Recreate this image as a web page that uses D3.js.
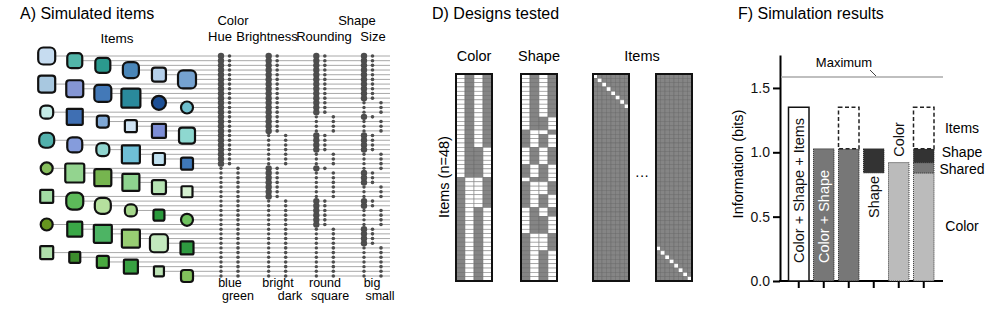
<!DOCTYPE html>
<html>
<head>
<meta charset="utf-8">
<script src="https://cdn.jsdelivr.net/npm/d3@7"></script>
<style>
  body { margin: 0; background: #fff; }
  svg { font-family: "Liberation Sans", Arial, sans-serif; }
</style>
</head>
<body>
<svg id="fig" width="1000" height="312"></svg>
<script>
// ---------- data ----------
// item features, 0 = first category, 1 = second (blue/green, bright/dark, round/square, big/small)
const hue        = [0,0,0,0,0,0,0,0,0,0,0,0,0,0,0,0,0,0,0,0,0,0,0,0, 1,1,1,1,1,1,1,1,1,1,1,1,1,1,1,1,1,1,1,1,1,1,1,1];
const brightness = [0,0,0,0,0,0,0,0,0,0,0,0,0,0,0,0,0,1,1,1,1,1,1,1, 0,0,0,0,0,0,0,1,1,1,1,1,1,1,1,1,1,1,1,1,1,1,1,1];
const rounding   = [0,0,0,0,0,0,0,0,0,0,0,0,0,1,1,1,1,0,0,0,0,1,1,1, 0,1,1,1,1,1,1,0,0,0,0,0,0,1,1,1,1,1,1,1,1,1,1,1];
const sizeCat    = [0,0,0,0,0,0,0,0,0,0,1,1,1,0,1,1,1,0,0,0,0,1,1,1, 1,0,0,0,1,1,1,0,0,1,1,1,1,0,0,0,0,1,1,1,1,1,1,1];

// how each item looks in panel A
const itemColors = [
  "#c6dcf0","#52b5a8","#2b9a8e","#4a86b8","#b5d0ea","#75a2d0",
  "#a8c8e0","#8596d4","#4379b8","#2a8a9c","#1e5096","#6fc0cf",
  "#c5ebe6","#3f6fb3","#7fa8d6","#d0e4f4","#7d8ed6","#8ed8d0",
  "#52b1ac","#859cdc","#90d5cf","#6fbfd6","#bfe0ef","#3f78b8",
  "#86be5c","#93d48f","#76b54f","#8ed38f","#b7e4b4","#d5f0d0",
  "#a2dba4","#5dba5a","#b5e09e","#a5d78b","#2a9a3c","#6ec15e",
  "#66951f","#3aa847","#4db464","#98ce73","#c2e8bd","#2e9a40",
  "#afdfab","#3c8c2c","#49a83f","#38a142","#bde4b6","#82c05c"
];
const itemSizes = [
  17,15,15,16,14,18,
  17,17,17,19,14,12,
  13,16,12,12,14,16,
  15,15,13,18,12,12,
  12,19,17,17,14,11,
  13,17,16,12,11,12,
  12,15,18,18,18,13,
  13,11,12,14,10,12
];
const itemCorners = [
  5,4,4,5,3,5,
  3,3,4,2,7,6,
  5,1,3,2,1,3,
  6,5,5,1,2,2,
  6,2,2,1,2,1,
  1,6,6,5,2,6,
  6,1,1,1,4,1,
  1,1,2,1,1,3
];

const featureNames = ["Hue", "Brightness", "Rounding", "Size"];
const featureLow   = ["blue", "bright", "round", "big"];
const featureHigh  = ["green", "dark", "square", "small"];
const featureData  = [hue, brightness, rounding, sizeCat];

// panel F
const barLabels = ["Color + Shape + Items", "Color + Shape", "", "Shape", "Color", ""];
const segBar  = [0, 1, 2, 2, 3, 4, 5, 5, 5, 5];
const segLo   = [0, 0, 0, 1.027, 0.84, 0, 0, 0.84, 0.92, 1.027];
const segHi   = [1.35, 1.027, 1.027, 1.35, 1.027, 0.92, 0.84, 0.92, 1.027, 1.35];
const segKind = ["all", "both", "both", "items", "shape", "color", "color", "shared", "shape", "items"];
const maxInfo = 1.585;
const yTicks  = [0, 0.5, 1.0, 1.5];
const sideLabels = ["Items", "Shape", "Shared", "Color"];
const sideValues = [1.19, 1.0, 0.87, 0.43];

const svg = d3.select("#fig");

// ---------- panel A ----------
const A = svg.append("g");
A.append("text").attr("x", 20).attr("y", 19).attr("font-size", 16).text("A) Simulated items");
A.append("text").attr("x", 117).attr("y", 43).attr("font-size", 13.5).attr("text-anchor", "middle").text("Items");

const n = hue.length;
const rowY = d3.scaleLinear().domain([0, n - 1]).range([56, 276]);
const colX = d3.scaleLinear().domain([0, 5]).range([46.7, 187]);

// one grey line per item running out to the feature columns
A.append("g").selectAll("line").data(d3.range(n)).enter().append("line")
  .attr("x1", i => colX(i % 6)).attr("x2", 390)
  .attr("y1", i => rowY(i)).attr("y2", i => rowY(i))
  .attr("stroke", "#a8a8a8").attr("stroke-width", 1);

A.append("g").selectAll("rect").data(d3.range(n)).enter().append("rect")
  .attr("x", i => colX(i % 6) - itemSizes[i] / 2)
  .attr("y", i => rowY(i) - itemSizes[i] / 2)
  .attr("width", i => itemSizes[i]).attr("height", i => itemSizes[i])
  .attr("rx", i => itemCorners[i]).attr("ry", i => itemCorners[i])
  .attr("fill", i => itemColors[i])
  .attr("stroke", "#111").attr("stroke-width", 2.2);

// feature dots: spine column (big = first category), then one small dot per category column
const featX = d3.scalePoint().domain(featureNames).range([221, 364]);
const dotCol = "#4d4d4d";
featureNames.forEach((f, k) => {
  const vals = featureData[k];
  const x0 = featX(f);
  const g = A.append("g");
  g.selectAll("circle.spine").data(vals).enter().append("circle").attr("class", "spine")
    .attr("cx", x0).attr("cy", (d, i) => rowY(i))
    .attr("r", d => d === 0 ? 3.2 : 1.7).attr("fill", dotCol);
  g.selectAll("circle.cat").data(vals).enter().append("circle").attr("class", "cat")
    .attr("cx", d => d === 0 ? x0 + 8.5 : x0 + 17).attr("cy", (d, i) => rowY(i))
    .attr("r", 1.8).attr("fill", dotCol);
});

const headX = [220, 267, 324, 373];
featureNames.forEach((f, k) => {
  A.append("text").attr("x", headX[k]).attr("y", 41).attr("font-size", 13)
    .attr("text-anchor", "middle").text(f);
});
A.append("text").attr("x", 233).attr("y", 25).attr("font-size", 13).attr("text-anchor", "middle").text("Color");
A.append("text").attr("x", 357).attr("y", 25).attr("font-size", 13).attr("text-anchor", "middle").text("Shape");
const lowX = [230, 278, 325, 372], highX = [238, 290, 330, 380];
featureNames.forEach((f, k) => {
  A.append("text").attr("x", lowX[k]).attr("y", 286.5).attr("font-size", 12.5)
    .attr("text-anchor", "middle").text(featureLow[k]);
  A.append("text").attr("x", highX[k]).attr("y", 300).attr("font-size", 12.5)
    .attr("text-anchor", "middle").text(featureHigh[k]);
});

// ---------- panel D ----------
const D = svg.append("g");
D.append("text").attr("x", 432).attr("y", 19).attr("font-size", 16).text("D) Designs tested");
const mRow = d3.scaleBand().domain(d3.range(n)).range([74, 281]);

function drawMatrix(left, nCols, isOn) {
  const w = 36;
  const mc = d3.scaleBand().domain(d3.range(nCols)).range([left, left + w]);
  const cells = [];
  for (let r = 0; r < n; r++) for (let c = 0; c < nCols; c++) cells.push({ r, c, on: isOn(r, c) });
  const g = D.append("g");
  g.selectAll("rect").data(cells).enter().append("rect")
    .attr("x", d => mc(d.c)).attr("y", d => mRow(d.r))
    .attr("width", mc.bandwidth()).attr("height", mRow.bandwidth())
    .attr("fill", d => d.on ? "#fff" : "#858585")
    .attr("stroke", d => d.on ? "#8a8a8a" : "#6f6f6f").attr("stroke-width", 0.6);
  g.append("rect").attr("x", left).attr("y", 74).attr("width", w).attr("height", 207)
    .attr("fill", "none").attr("stroke", "#111").attr("stroke-width", 2);
}
drawMatrix(456, 4, (r, c) => c < 2 ? hue[r] === c : brightness[r] === c - 2);
drawMatrix(521, 4, (r, c) => c < 2 ? rounding[r] === c : sizeCat[r] === c - 2);
drawMatrix(593, 8, (r, c) => r === c);
drawMatrix(656, 8, (r, c) => r - 40 === c);

D.append("text").attr("x", 474).attr("y", 61).attr("font-size", 14.5).attr("text-anchor", "middle").text("Color");
D.append("text").attr("x", 539).attr("y", 61).attr("font-size", 14.5).attr("text-anchor", "middle").text("Shape");
D.append("text").attr("x", 642).attr("y", 61).attr("font-size", 14.5).attr("text-anchor", "middle").text("Items");
D.append("text").attr("x", 642).attr("y", 180).attr("font-size", 14).attr("text-anchor", "middle").text("···");
D.append("text").attr("transform", "translate(449,177) rotate(-90)").attr("font-size", 14.5)
  .attr("text-anchor", "middle").text("Items (n=48)");

// ---------- panel F ----------
const F = svg.append("g");
F.append("text").attr("x", 738).attr("y", 19).attr("font-size", 16).text("F) Simulation results");

const fY = d3.scaleLinear().domain([0, 1.756]).range([281, 55]);
const fX = d3.scaleBand().domain(d3.range(6)).range([788.5, 934]).paddingInner(0.18);

const yAxis = F.append("g").attr("transform", "translate(780,0)")
  .call(d3.axisLeft(fY).tickValues(yTicks).tickFormat(d3.format(".1f")).tickSize(7).tickSizeOuter(0));
yAxis.select(".domain").attr("stroke-width", 2);
yAxis.selectAll(".tick line").attr("stroke-width", 2);
yAxis.selectAll(".tick text").attr("font-size", 14).attr("font-family", "Liberation Sans, Arial, sans-serif").attr("fill", "#111");

const xAxis = F.append("g").attr("transform", "translate(0,281)")
  .call(d3.axisBottom(fX).tickFormat("").tickSize(7).tickSizeOuter(0));
xAxis.select(".domain").remove();
xAxis.selectAll(".tick line").attr("stroke-width", 2);
F.append("line").attr("x1", 779).attr("x2", 943).attr("y1", 281).attr("y2", 281)
  .attr("stroke", "#000").attr("stroke-width", 2);

F.append("line").attr("x1", 781).attr("x2", 943).attr("y1", fY(maxInfo)).attr("y2", fY(maxInfo))
  .attr("stroke", "#aaa").attr("stroke-width", 1.5);
F.append("text").attr("x", 844).attr("y", 67).attr("font-size", 13).attr("text-anchor", "middle").text("Maximum");
F.append("line").attr("x1", 870).attr("y1", 70).attr("x2", 876).attr("y2", fY(maxInfo) - 1)
  .attr("stroke", "#444").attr("stroke-width", 1);

const kindFill = { all: "#fff", both: "#777", items: "#fff", shape: "#333", color: "#bbb", shared: "#777" };
const kindDash = { all: null, both: "1,1", items: "4,2.5", shape: "1,1", color: "1,1", shared: "1,1" };
const kindStroke = { all: "#111", both: "#222", items: "#222", shape: "#222", color: "#333", shared: "#333" };
const kindWidth = { all: 1.5, both: 1, items: 1.5, shape: 1, color: 1, shared: 1 };

F.append("g").selectAll("rect").data(d3.range(segBar.length)).enter().append("rect")
  .attr("x", j => fX(segBar[j])).attr("width", fX.bandwidth())
  .attr("y", j => fY(segHi[j])).attr("height", j => fY(segLo[j]) - fY(segHi[j]))
  .attr("fill", j => kindFill[segKind[j]])
  .attr("stroke", j => kindStroke[segKind[j]])
  .attr("stroke-width", j => kindWidth[segKind[j]])
  .attr("stroke-dasharray", j => kindDash[segKind[j]]);

const labelStart = [0.14, 0.14, 0, 0.49, 0.965, 0];
const labelFill = ["#111", "#fff", "#111", "#111", "#111", "#111"];
barLabels.forEach((t, b) => {
  if (!t) return;
  F.append("text")
    .attr("transform", `translate(${fX(b) + fX.bandwidth() / 2},${fY(labelStart[b])}) rotate(-90)`)
    .attr("dy", "0.36em").attr("font-size", 14.5).attr("fill", labelFill[b]).text(t);
});

sideLabels.forEach((t, k) => {
  F.append("text").attr("x", 962).attr("y", fY(sideValues[k])).attr("dy", "0.36em")
    .attr("font-size", 14).attr("text-anchor", "middle").text(t);
});

F.append("text").attr("transform", "translate(743,164) rotate(-90)").attr("font-size", 14.5)
  .attr("text-anchor", "middle").text("Information (bits)");
</script>
</body>
</html>
